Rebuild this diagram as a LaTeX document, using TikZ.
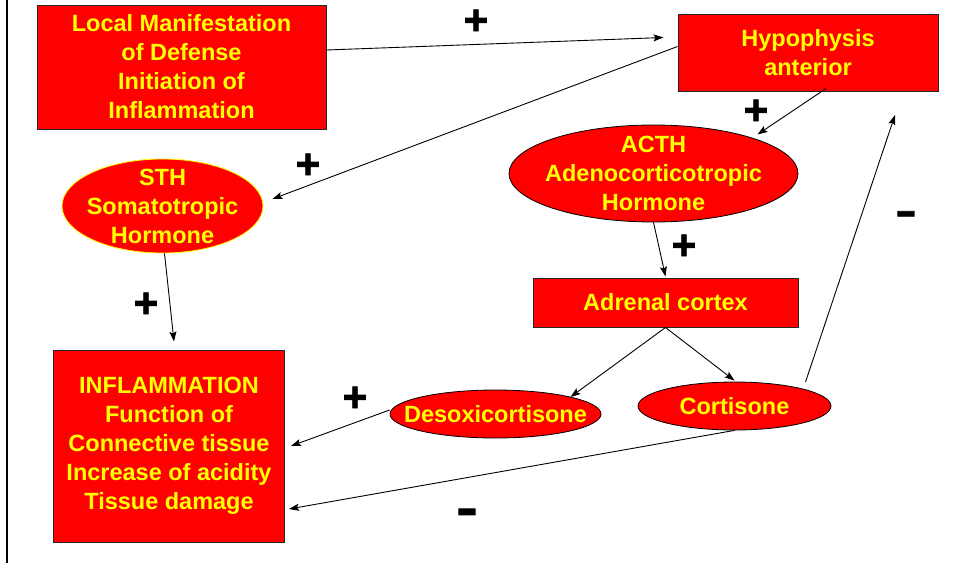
\documentclass[tikz,border=0pt]{standalone}
\usepackage{fontspec}
\setmainfont{Liberation Sans}
\newfontface\signfont{Liberation Sans Bold}[FakeBold=2]
\usetikzlibrary{shapes.geometric,arrows.meta}
\definecolor{boxred}{HTML}{FF0000}
\definecolor{txtyellow}{HTML}{FFFF00}
\tikzset{
  redbox/.style={draw=black!85, line width=1pt, fill=boxred, text=txtyellow,
    font=\bfseries\fontsize{23.5}{29}\selectfont, align=center, inner sep=0pt},
  redoval/.style={ellipse, draw=black, line width=0.8pt, fill=boxred, text=txtyellow,
    font=\bfseries\fontsize{23.5}{29}\selectfont, align=center,
    inner xsep=-60pt, inner ysep=-40pt},
  conn/.style={draw=black, line width=0.9pt, -{Stealth[length=10pt,width=7pt,inset=2pt]}},
  sign/.style={text=black, font=\signfont\fontsize{42}{42}\selectfont, inner sep=0pt}
}
\begin{document}
\begin{tikzpicture}[x=1pt,y=-1pt]
\useasboundingbox (0,0) rectangle (953,563);
\draw[line width=2pt] (7,0) -- (7,563);
% boxes
\node[redbox, minimum width=289pt, minimum height=124pt] (local) at (181.5,67)
  {Local Manifestation\\of Defense\\Initiation of\\Inflammation};
\node[redbox, minimum width=260pt, minimum height=77pt] (hyp) at (808,52.5)
  {Hypophysis\\anterior};
\node[redoval, draw=txtyellow, minimum width=201pt, minimum height=94pt] (sth) at (162.5,206)
  {STH\\Somatotropic\\Hormone};
\node[redoval, minimum width=289pt, minimum height=97pt] (acth) at (653.5,173.5)
  {ACTH\\Adenocorticotropic\\Hormone};
\node[redbox, minimum width=265pt, minimum height=49pt] (adr) at (665.5,302.5)
  {Adrenal cortex};
\node[redoval, minimum width=211pt, minimum height=48pt] (deso) at (495.5,414)
  {Desoxicortisone};
\node[redoval, minimum width=193pt, minimum height=48pt] (cort) at (734.5,406)
  {Cortisone};
\node[redbox, minimum width=231pt, minimum height=192pt] (infl) at (169,446)
  {INFLAMMATION\\Function of\\Connective tissue\\Increase of acidity\\Tissue damage};
\coordinate (top) at (895,115);
% connectors
\draw[conn] ([yshift=17pt]local.east) -- ([xshift=-14pt,yshift=15pt]hyp.west);
\draw[conn] ([yshift=6pt]hyp.west) -- ([xshift=9pt,yshift=7pt]sth.east);
\draw[conn] ([xshift=18pt,yshift=3pt]hyp.south) -- ([xshift=104pt,yshift=39pt]acth.center);
\draw[conn] (acth.south) -- ([yshift=1pt]adr.north);
\draw[conn] ([xshift=2pt]sth.south) -- ([xshift=5pt,yshift=8pt]infl.north);
\draw[conn] (adr.south) -- ([xshift=75pt,yshift=17pt]deso.center);
\draw[conn] (adr.south) -- ([yshift=1pt]cort.north);
\draw[conn] ([yshift=4pt]deso.west) -- ([xshift=6pt]infl.east);
\draw[conn] (cort.south) -- ([xshift=4pt,yshift=-63pt]infl.east);
\draw[conn] ([xshift=71pt,yshift=24pt]cort.center) -- (top);
% signs
\node[sign] (p1) at (476,22) {+};
\node[sign] (p2) at (308,166) {+};
\node[sign] (p3) at (756,112) {+};
\node[sign] (p4) at (684,247) {+};
\node[sign] (p5) at (146,305) {+};
\node[sign] (p6) at (355,399) {+};
\node[sign] (m1) at (906,218) {\scalebox{1.5}[1]{-}};
\node[sign] (m2) at (467,517) {\scalebox{1.5}[1.2]{-}};
\end{tikzpicture}
\end{document}
